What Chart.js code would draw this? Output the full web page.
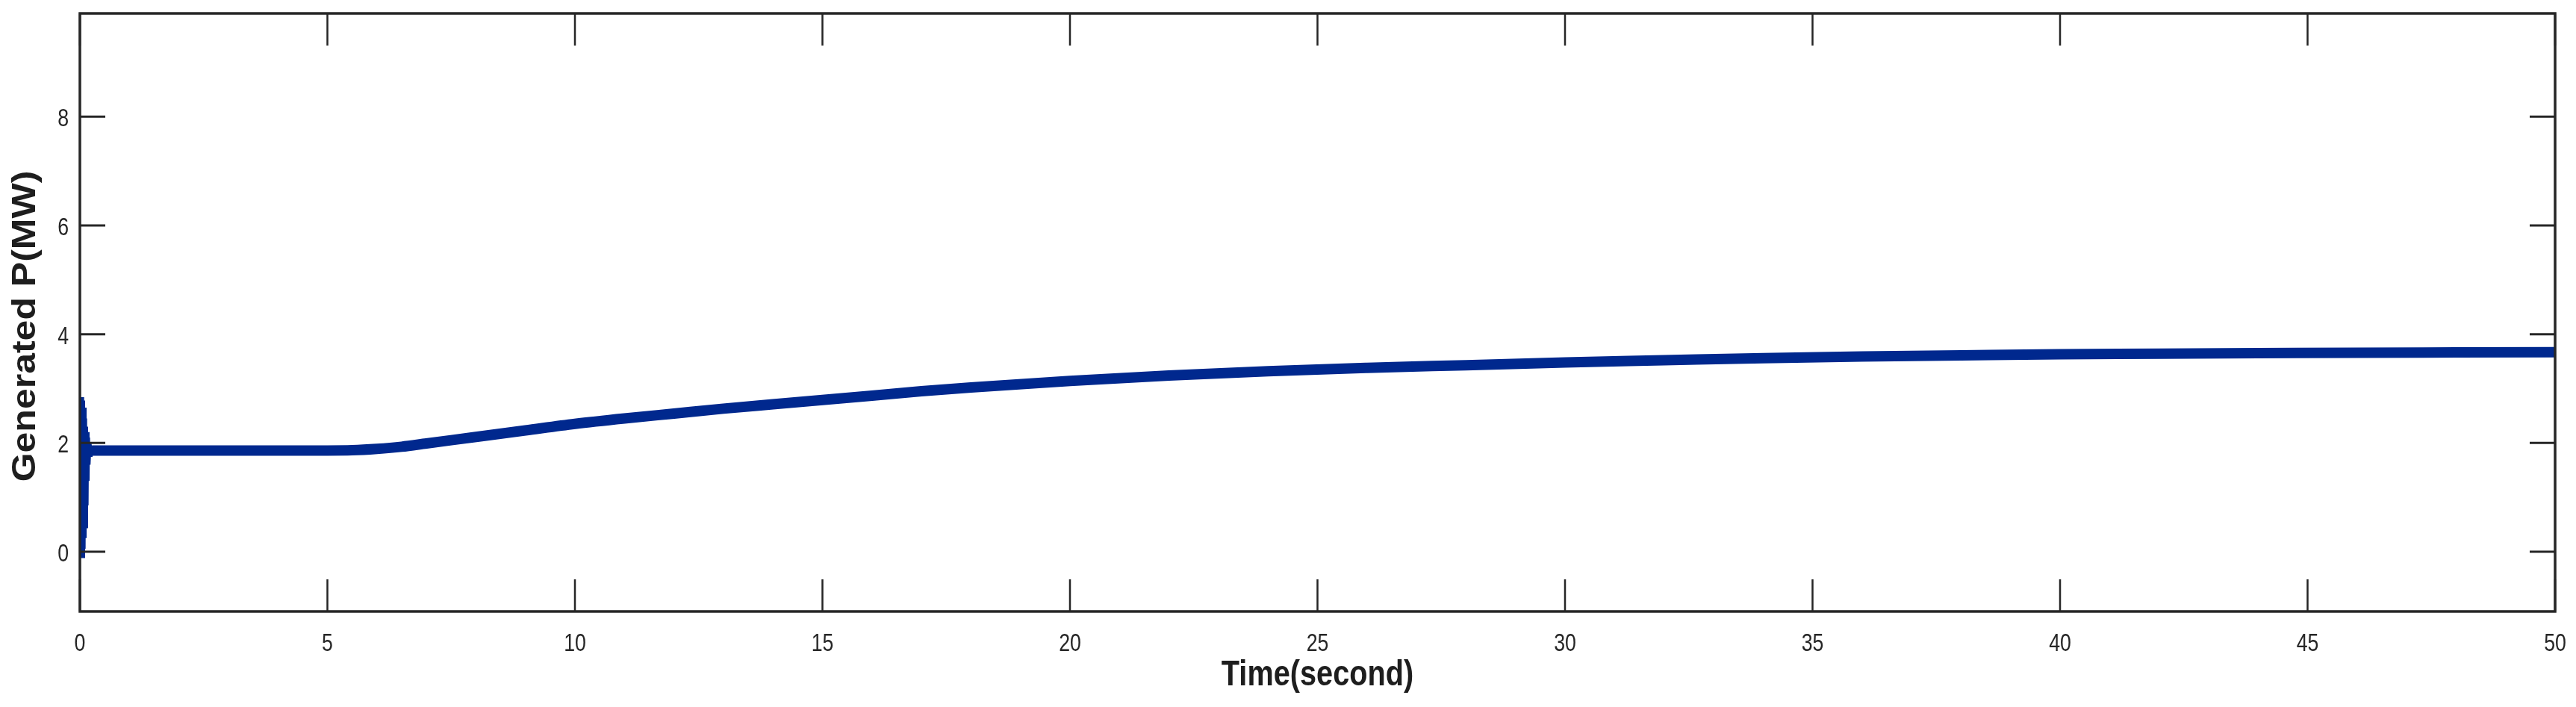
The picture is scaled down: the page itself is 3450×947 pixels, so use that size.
<!DOCTYPE html>
<html>
<head>
<meta charset="utf-8">
<title>Generated P(MW)</title>
<script src="https://cdn.jsdelivr.net/npm/chart.js@4.4.1/dist/chart.umd.min.js"></script>
<style>
  html, body { margin: 0; padding: 0; background: #ffffff; }
  #wrap { position: relative; width: 3450px; height: 947px; }
</style>
</head>
<body>
<div id="wrap"><canvas id="powerChart"></canvas></div>
<script>
// Start-up transient (dense oscillation right after t = 0).
const transientTime = [0, 0.01, 0.02, 0.03, 0.04, 0.05, 0.06, 0.07, 0.08, 0.09, 0.10, 0.11, 0.12, 0.13, 0.14, 0.16, 0.18, 0.20, 0.25];
const transientP    = [0, 2.84, -0.05, 2.78, 0.05, 2.65, 0.25, 2.45, 0.5, 2.3, 0.85, 2.2, 1.3, 2.1, 1.6, 2.0, 1.75, 1.9, 1.86];

// Slow rise of the generated power after ~5.5 s.
const mainTime = [0.25, 1, 2, 3, 4, 5, 5.5, 6, 6.5, 7, 7.5, 8, 9, 10, 11, 12, 13, 14, 15, 16, 17, 18,
                  20, 22, 24, 26, 28, 30, 32, 34, 36, 38, 40, 42, 44, 46, 48, 50];
const mainP    = [1.86, 1.86, 1.86, 1.86, 1.86, 1.86, 1.865, 1.89, 1.93, 1.99, 2.05, 2.11, 2.23, 2.35, 2.45, 2.54, 2.63, 2.71, 2.79, 2.87, 2.95, 3.02,
                  3.14, 3.24, 3.32, 3.38, 3.43, 3.48, 3.52, 3.56, 3.59, 3.61, 3.63, 3.64, 3.65, 3.66, 3.665, 3.67];

const xTicks = [0, 5, 10, 15, 20, 25, 30, 35, 40, 45, 50];
const yTicks = [0, 2, 4, 6, 8];
const xTitle = 'Time(second)';
const yTitle = 'Generated P(MW)';

const axisColor = '#262626';
const textColor = '#1e1e1e';
const lineColor = '#00288e';
const sansFont = "'Liberation Sans', Arial, Helvetica, sans-serif";

const toPoints = (xs, ys) => xs.map((x, i) => ({ x: x, y: ys[i] }));

// The original figure is squeezed horizontally, so its text is narrow.
function drawSqueezed(ctx, text, x, y, sx, sy, rotation) {
    ctx.save();
    ctx.translate(x, y);
    if (rotation) ctx.rotate(rotation);
    ctx.scale(sx, sy);
    ctx.fillText(text, 0, 0);
    ctx.restore();
}

// MATLAB-style box with inward ticks on all four sides, plus the labels.
const boxPlugin = {
    id: 'boxTicks',
    afterDraw: function (chart) {
        const ctx = chart.ctx;
        const area = chart.chartArea;
        const xs = chart.scales.x;
        const ys = chart.scales.y;
        ctx.save();
        ctx.strokeStyle = axisColor;
        ctx.lineWidth = 2.5;
        ctx.beginPath();
        xTicks.forEach(function (v) {
            const px = xs.getPixelForValue(v);
            ctx.moveTo(px, area.bottom);
            ctx.lineTo(px, area.bottom - 43);
            ctx.moveTo(px, area.top);
            ctx.lineTo(px, area.top + 43);
        });
        ctx.stroke();
        ctx.lineWidth = 3;
        ctx.beginPath();
        yTicks.forEach(function (v) {
            const py = ys.getPixelForValue(v);
            ctx.moveTo(area.left, py);
            ctx.lineTo(area.left + 34, py);
            ctx.moveTo(area.right, py);
            ctx.lineTo(area.right - 34, py);
        });
        ctx.stroke();
        ctx.lineWidth = 3.5;
        ctx.strokeRect(area.left, area.top, area.right - area.left, area.bottom - area.top);

        // tick labels
        ctx.fillStyle = axisColor;
        ctx.font = '33px ' + sansFont;
        ctx.textBaseline = 'alphabetic';
        ctx.textAlign = 'center';
        xTicks.forEach(function (v) {
            drawSqueezed(ctx, String(v), xs.getPixelForValue(v), area.bottom + 53, 0.81, 1, 0);
        });
        ctx.textAlign = 'right';
        yTicks.forEach(function (v) {
            drawSqueezed(ctx, String(v), area.left - 15, ys.getPixelForValue(v) + 13, 0.81, 1, 0);
        });

        // axis titles
        ctx.fillStyle = textColor;
        ctx.font = 'bold 49px ' + sansFont;
        ctx.textAlign = 'center';
        drawSqueezed(ctx, xTitle, (area.left + area.right) / 2, area.bottom + 99, 0.81, 1, 0);
        ctx.font = 'bold 50px ' + sansFont;
        drawSqueezed(ctx, yTitle, 47, 437, 1, 0.87, -Math.PI / 2);
        ctx.restore();
    }
};

const ctx = document.getElementById('powerChart').getContext('2d');
new Chart(ctx, {
    type: 'line',
    data: {
        datasets: [
            {
                data: toPoints(transientTime, transientP),
                borderColor: lineColor,
                borderWidth: 10,
                tension: 0,
                pointRadius: 0
            },
            {
                data: toPoints(mainTime, mainP),
                borderColor: lineColor,
                borderWidth: 14,
                cubicInterpolationMode: 'monotone',
                pointRadius: 0
            }
        ]
    },
    options: {
        responsive: true,
        maintainAspectRatio: false,
        devicePixelRatio: 1,
        animation: false,
        layout: { padding: { top: 18, right: 28, left: 0, bottom: 0 } },
        plugins: {
            legend: { display: false },
            tooltip: { enabled: false }
        },
        scales: {
            x: {
                type: 'linear',
                min: 0,
                max: 50,
                afterBuildTicks: function (scale) {
                    scale.ticks = xTicks.map(v => ({ value: v }));
                },
                afterFit: function (scale) { scale.height = 128; },
                grid: { display: false, drawTicks: false },
                border: { display: false },
                ticks: { display: false },
                title: { display: false }
            },
            y: {
                type: 'linear',
                min: -1.1,
                max: 9.9,
                afterBuildTicks: function (scale) {
                    scale.ticks = yTicks.map(v => ({ value: v }));
                },
                afterFit: function (scale) { scale.width = 107; },
                grid: { display: false, drawTicks: false },
                border: { display: false },
                ticks: { display: false },
                title: { display: false }
            }
        }
    },
    plugins: [boxPlugin]
});
</script>
</body>
</html>
